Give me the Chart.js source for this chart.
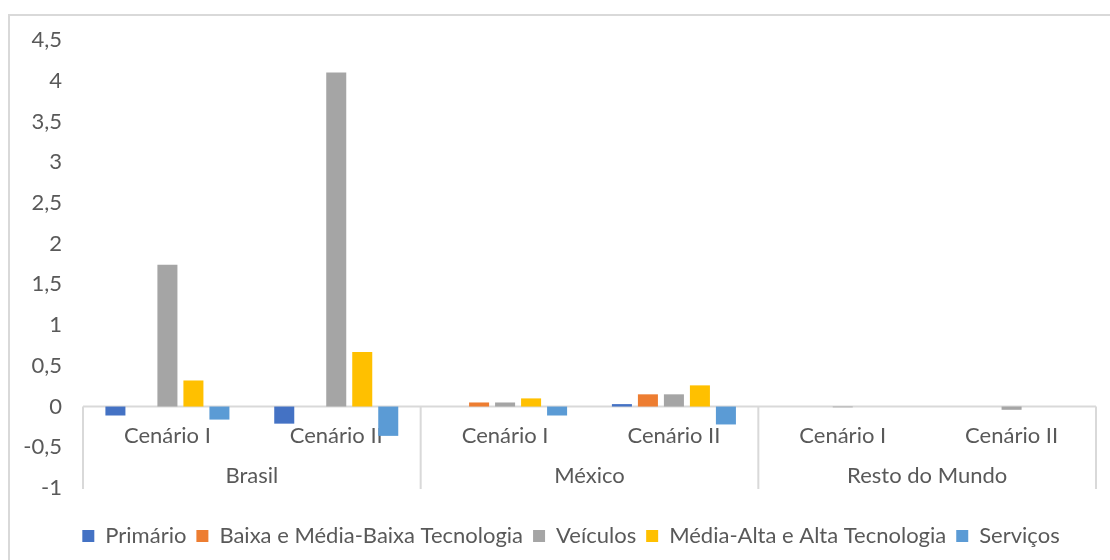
<!DOCTYPE html>
<html>
<head>
<meta charset="utf-8">
<script src="https://cdn.jsdelivr.net/npm/chart.js@4/dist/chart.umd.min.js"></script>
<style>
  html, body { margin: 0; padding: 0; background: #fff; }
  #wrap { position: relative; width: 1110px; height: 560px; overflow: hidden; }
  #frame { position: absolute; left: 8px; top: 14px; width: 1200px; height: 600px;
           border-left: 2px solid #d9d9d9; border-top: 2px solid #d9d9d9; }
  canvas { position: absolute; left: 0; top: 0; }
</style>
</head>
<body>
<div id="wrap">
  <div id="frame"></div>
  <canvas id="chart" width="1110" height="560"></canvas>
</div>
<script>
// categories: scenario per region
const scenarios = ['Cenário I', 'Cenário II', 'Cenário I', 'Cenário II', 'Cenário I', 'Cenário II'];
const regions = ['Brasil', 'México', 'Resto do Mundo'];

// series values
const primario  = [-0.11, -0.21, 0, 0.03, 0, 0];
const baixa     = [0, 0, 0.05, 0.15, 0, 0];
const veiculos  = [1.74, 4.1, 0.05, 0.15, -0.01, -0.04];
const mediaAlta = [0.32, 0.67, 0.10, 0.26, 0, 0];
const servicos  = [-0.16, -0.36, -0.11, -0.22, 0, 0];

const seriesNames = ['Primário', 'Baixa e Média-Baixa Tecnologia', 'Veículos', 'Média-Alta e Alta Tecnologia', 'Serviços'];
const seriesColors = ['#4472C4', '#ED7D31', '#A5A5A5', '#FFC000', '#5B9BD5'];

const textColor = '#595959';
const lineColor = '#d9d9d9';
const fontFamily = "Lato, 'Noto Sans', sans-serif";
const fontSize = 22;

Chart.defaults.font.family = fontFamily;
Chart.defaults.color = textColor;

// zero line, group separators and the two rows of category labels
const groupAxis = {
    id: 'groupAxis',
    afterLayout(chart) {
        // nudge the legend so it is centred like the original
        chart.legend.left += 36;
    },
    beforeDatasetsDraw(chart) {
        const { ctx, scales: { x, y } } = chart;
        const zeroY = y.getPixelForValue(0);
        const bottomY = y.getPixelForValue(-1) + 1;
        const step = x.getPixelForValue(1) - x.getPixelForValue(0);

        ctx.save();
        ctx.strokeStyle = lineColor;
        ctx.lineWidth = 2;
        ctx.beginPath();
        ctx.moveTo(x.left, zeroY);
        ctx.lineTo(x.right, zeroY);
        for (let g = 0; g <= regions.length; g++) {
            const bx = x.getPixelForValue(g * 2) - step / 2;
            ctx.moveTo(bx, zeroY);
            ctx.lineTo(bx, bottomY);
        }
        ctx.stroke();

        ctx.fillStyle = textColor;
        ctx.font = fontSize + 'px ' + fontFamily;
        ctx.textAlign = 'center';
        ctx.textBaseline = 'middle';
        scenarios.forEach((s, i) => {
            ctx.fillText(s, x.getPixelForValue(i), zeroY + 29);
        });
        regions.forEach((r, g) => {
            const cx = (x.getPixelForValue(g * 2) + x.getPixelForValue(g * 2 + 1)) / 2;
            ctx.fillText(r, cx, zeroY + 69);
        });
        ctx.restore();
    }
};

const datasets = [primario, baixa, veiculos, mediaAlta, servicos].map((vals, i) => ({
    label: seriesNames[i],
    data: vals,
    backgroundColor: seriesColors[i],
    borderWidth: 0,
    categoryPercentage: 0.77,
    barPercentage: 0.77
}));

new Chart(document.getElementById('chart'), {
    type: 'bar',
    data: { labels: scenarios, datasets: datasets },
    options: {
        responsive: false,
        animation: false,
        layout: { padding: { left: 10, right: 14, top: 40, bottom: 3 } },
        plugins: {
            legend: {
                position: 'bottom',
                labels: {
                    boxWidth: 12,
                    boxHeight: 12,
                    padding: 10,
                    font: { size: fontSize },
                    color: textColor
                }
            },
            tooltip: { enabled: false }
        },
        scales: {
            x: {
                ticks: { display: false },
                grid: { display: false, drawTicks: false },
                border: { display: false },
                afterFit: (scale) => { scale.height = 27; }
            },
            y: {
                min: -1,
                max: 4.5,
                ticks: {
                    stepSize: 0.5,
                    padding: 21,
                    font: { size: fontSize },
                    color: textColor,
                    callback: (v) => String(Math.round(v * 10) / 10).replace('.', ',')
                },
                grid: { display: false, drawTicks: false },
                border: { display: false },
                afterFit: (scale) => { scale.width = 73; }
            }
        }
    },
    plugins: [groupAxis]
});
</script>
</body>
</html>
